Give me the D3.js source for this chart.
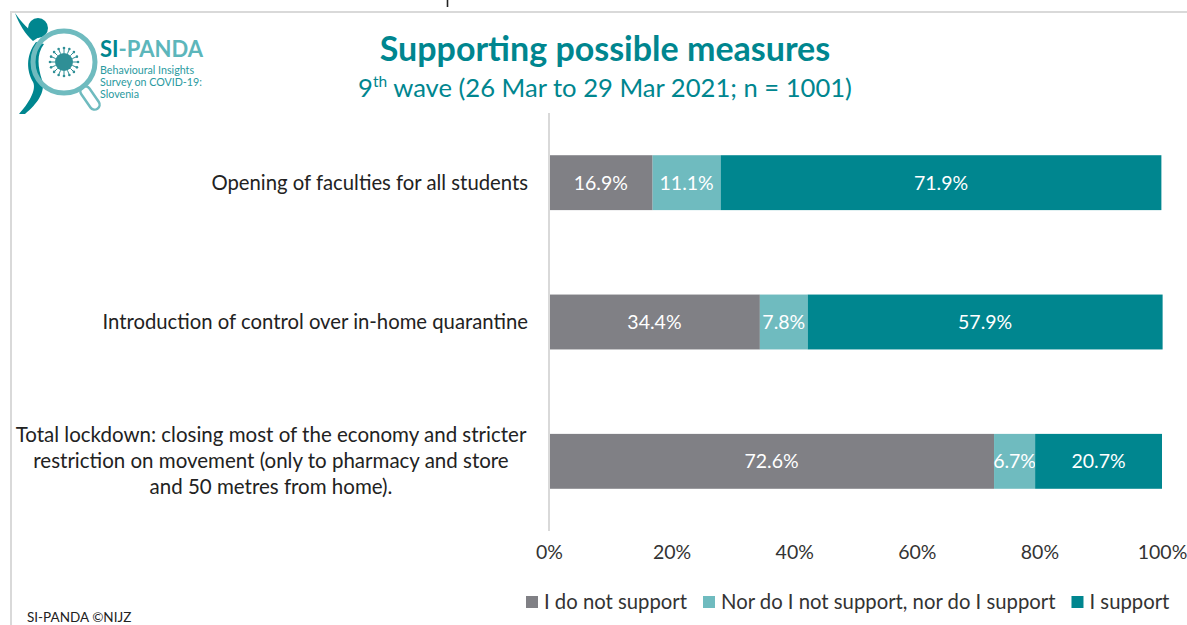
<!DOCTYPE html>
<html>
<head>
<meta charset="utf-8">
<script src="https://cdn.jsdelivr.net/npm/d3@7"></script>
<style>
  html, body { margin: 0; padding: 0; background: #fff; }
  svg { display: block; font-family: Lato, "Open Sans", sans-serif; }
</style>
</head>
<body>
<svg id="chart" width="1187" height="625"></svg>
<script>
// Survey items (top to bottom) and the share of answers per response option (%)
const categories = [
  "Opening of faculties for all students",
  "Introduction of control over in-home quarantine",
  "Total lockdown: closing most of the economy and stricter restriction on movement (only to pharmacy and store and 50 metres from home)."
];
const categoryLines = [
  ["Opening of faculties for all students"],
  ["Introduction of control over in-home quarantine"],
  ["Total lockdown: closing most of the economy and stricter",
   "restriction on movement (only to pharmacy and store",
   "and 50 metres from home)."]
];
const seriesNames = ["I do not support", "Nor do I not support, nor do I support", "I support"];
const doNotSupport = [16.9, 34.4, 72.6];
const neutral = [11.1, 7.8, 6.7];
const support = [71.9, 57.9, 20.7];
const tickValues = [0, 20, 40, 60, 80, 100];

const colors = ["#808085", "#6fbbbf", "#00868f"];
const teal = "#00868f";
const fs = 20.3;

const svg = d3.select("#chart");

// frame lines
svg.append("line").attr("x1", 10).attr("x2", 1187).attr("y1", 12).attr("y2", 12)
  .attr("stroke", "#d9d9d9").attr("stroke-width", 2);
svg.append("line").attr("x1", 11).attr("x2", 11).attr("y1", 12).attr("y2", 625)
  .attr("stroke", "#d9d9d9").attr("stroke-width", 2);
// glyph stem left over at the top edge
svg.append("line").attr("x1", 447.5).attr("x2", 447.5).attr("y1", 0).attr("y2", 7)
  .attr("stroke", "#222").attr("stroke-width", 1.6);

// ---- logo ----
const logo = svg.append("g");
// magnifier handle
logo.append("rect").attr("x", 85).attr("y", 85).attr("width", 10).attr("height", 26).attr("rx", 5)
  .attr("transform", "rotate(-35 90 98)")
  .attr("fill", "#fff").attr("stroke", "#6fbbbf").attr("stroke-width", 2.5);
// figure: arm, head, body swoosh
logo.append("path")
  .attr("d", "M15,13 C19,24 25,34 33,41 L39,37 C30,31 21,22 15,13 Z")
  .attr("fill", teal);
logo.append("circle").attr("cx", 38).attr("cy", 28).attr("r", 10).attr("fill", teal);
logo.append("path")
  .attr("d", "M36,42 C25,56 27,72 33,82 C37,90 28,104 19,114 L25,114 C37,104 46,92 42,80 C38,68 36,54 44,44 Z")
  .attr("fill", teal);
// lens
logo.append("circle").attr("cx", 64).attr("cy", 62).attr("r", 31)
  .attr("fill", "none").attr("stroke", "#6fbbbf").attr("stroke-width", 5);
// virus
const vir = logo.append("g").attr("transform", "translate(64,62)");
vir.append("circle").attr("r", 9).attr("fill", "#2f8f96");
d3.range(16).forEach(i => {
  const a = i / 16 * 2 * Math.PI;
  vir.append("line").attr("x1", Math.cos(a) * 9).attr("y1", Math.sin(a) * 9)
    .attr("x2", Math.cos(a) * 13).attr("y2", Math.sin(a) * 13)
    .attr("stroke", "#2f8f96").attr("stroke-width", 1);
  vir.append("circle").attr("cx", Math.cos(a) * 14).attr("cy", Math.sin(a) * 14).attr("r", 1.3).attr("fill", "#2f8f96");
});
const lt = logo.append("text").attr("x", 100).attr("y", 57).attr("font-size", 22).attr("font-weight", 700);
lt.append("tspan").attr("fill", teal).text("SI");
lt.append("tspan").attr("fill", "#5cb6bb").text("-PANDA");
["Behavioural Insights", "Survey on COVID-19:", "Slovenia"].forEach((s, i) => {
  logo.append("text").attr("x", 100).attr("y", 74 + i * 12).attr("font-size", 10.7)
    .attr("fill", "#2a9aa0").text(s);
});

// ---- titles ----
svg.append("text").attr("x", 605).attr("y", 61).attr("text-anchor", "middle")
  .attr("font-size", 34).attr("font-weight", 700).attr("fill", teal)
  .text("Supporting possible measures");
const sub = svg.append("text").attr("x", 605).attr("y", 97).attr("text-anchor", "middle")
  .attr("font-size", 25.6).attr("fill", teal);
sub.append("tspan").text("9");
sub.append("tspan").attr("font-size", 15.5).attr("dy", -10).text("th");
sub.append("tspan").attr("dy", 10).text(" wave (26 Mar to 29 Mar 2021; n = 1001)");

// ---- scales ----
const x = d3.scaleLinear().domain([0, 100]).range([549, 1162]);
const y = d3.scaleBand().domain(categories).range([113, 531]).paddingInner(0.606).paddingOuter(0.303);

const rows = categories.map((c, i) => ({ c, vals: [doNotSupport[i], neutral[i], support[i]] }));

// bars
rows.forEach(r => {
  let acc = 0;
  r.vals.forEach((v, k) => {
    const x0 = acc, x1 = acc + v;
    acc = x1;
    svg.append("rect")
      .attr("x", x(x0)).attr("y", y(r.c))
      .attr("width", x(x1) - x(x0)).attr("height", y.bandwidth())
      .attr("fill", colors[k]);
    svg.append("text")
      .attr("x", (x(x0) + x(x1)) / 2).attr("y", y(r.c) + y.bandwidth() / 2 + 7)
      .attr("text-anchor", "middle").attr("font-size", 19.5).attr("fill", "#fff")
      .text(v.toFixed(1) + "%");
  });
});

// vertical axis line
svg.append("line").attr("x1", x(0)).attr("x2", x(0)).attr("y1", 113).attr("y2", 531)
  .attr("stroke", "#d9d9d9").attr("stroke-width", 2);

// category labels
categories.forEach((c, i) => {
  const lines = categoryLines[i];
  const cy = y(c) + y.bandwidth() / 2;
  const lh = 26;
  if (lines.length === 1) {
    svg.append("text").attr("x", 528).attr("y", cy + 7).attr("text-anchor", "end")
      .attr("font-size", fs).attr("fill", "#222").text(lines[0]);
  } else {
    lines.forEach((l, j) => {
      svg.append("text").attr("x", 271).attr("y", cy + 7 + (j - (lines.length - 1) / 2) * lh)
        .attr("text-anchor", "middle").attr("font-size", 20.5).attr("fill", "#222").text(l);
    });
  }
});

// x axis tick labels
const xAxis = d3.axisBottom(x).tickValues(tickValues).tickFormat(d => d + "%").tickSize(0).tickPadding(0);
const ax = svg.append("g").attr("transform", "translate(0,545)").call(xAxis);
ax.select(".domain").remove();
ax.selectAll("text").attr("font-size", 19.5).attr("fill", "#333").attr("font-family", "Lato, sans-serif");

// legend
const legend = svg.append("g");
let lx = 526;
seriesNames.forEach((n, k) => {
  legend.append("rect").attr("x", lx).attr("y", 596).attr("width", 12).attr("height", 12).attr("fill", colors[k]);
  const t = legend.append("text").attr("x", lx + 18).attr("y", 609).attr("font-size", fs)
    .attr("fill", "#333").text(n);
  lx += 18 + t.node().getComputedTextLength() + 16;
});

// footer
svg.append("text").attr("x", 27).attr("y", 622).attr("font-size", 13.5).attr("fill", "#222").text("SI-PANDA ©NIJZ");
</script>
</body>
</html>
